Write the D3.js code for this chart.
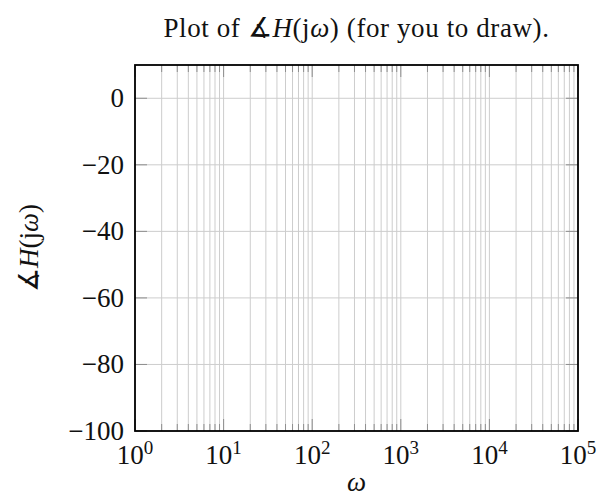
<!DOCTYPE html>
<html>
<head>
<meta charset="utf-8">
<script src="https://cdn.jsdelivr.net/npm/d3@7"></script>
<style>
  html, body { margin: 0; padding: 0; background: #fff; }
  svg { display: block; }
  text { font-family: "Liberation Serif", "DejaVu Serif", serif; fill: #111; }
  .angle { font-family: "DejaVu Sans", "DejaVu Serif", sans-serif; font-weight: 200; }
</style>
</head>
<body>
<svg id="chart" width="605" height="498"></svg>
<script>
// Axis extents and tick values for the phase plot (Bode angle grid, left blank for drawing)
const xDomain = [1, 1e5];
const yDomain = [-100, 10];
const xDecades = [0, 1, 2, 3, 4, 5];
const minorMultipliers = [2, 3, 4, 5, 6, 7, 8, 9];
const yTicks = [0, -20, -40, -60, -80, -100];

const plot = { left: 135, right: 578, top: 65, bottom: 431 };

const svg = d3.select("#chart");

const x = d3.scaleLog().domain(xDomain).range([plot.left, plot.right]);
const y = d3.scaleLinear().domain(yDomain).range([plot.bottom, plot.top]);

const majorX = xDecades.map(e => Math.pow(10, e));
const minorX = [];
xDecades.slice(0, -1).forEach(e => {
  minorMultipliers.forEach(m => minorX.push(m * Math.pow(10, e)));
});

const gridColor = "#cdcdcd";
const tickColor = "#8f8f8f";
const majorLen = 12, minorLen = 7;

// grid lines
const grid = svg.append("g").attr("stroke", gridColor).attr("stroke-width", 1);
grid.selectAll("line.vx")
  .data(majorX.concat(minorX))
  .join("line")
  .attr("x1", d => x(d)).attr("x2", d => x(d))
  .attr("y1", plot.top).attr("y2", plot.bottom);
grid.selectAll("line.hy")
  .data(yTicks)
  .join("line")
  .attr("x1", plot.left).attr("x2", plot.right)
  .attr("y1", d => y(d)).attr("y2", d => y(d));

// tick marks, drawn inward on all four sides
const ticks = svg.append("g").attr("stroke", tickColor).attr("stroke-width", 1);
const xTickData = majorX.map(v => ({ v, len: majorLen })).concat(minorX.map(v => ({ v, len: minorLen })));
ticks.selectAll("line.xb")
  .data(xTickData).join("line")
  .attr("x1", d => x(d.v)).attr("x2", d => x(d.v))
  .attr("y1", plot.bottom).attr("y2", d => plot.bottom - d.len);
ticks.selectAll("line.xt")
  .data(xTickData).join("line")
  .attr("x1", d => x(d.v)).attr("x2", d => x(d.v))
  .attr("y1", plot.top).attr("y2", d => plot.top + d.len);
ticks.selectAll("line.yl")
  .data(yTicks).join("line")
  .attr("x1", plot.left).attr("x2", plot.left + majorLen)
  .attr("y1", d => y(d)).attr("y2", d => y(d));
ticks.selectAll("line.yr")
  .data(yTicks).join("line")
  .attr("x1", plot.right).attr("x2", plot.right - majorLen)
  .attr("y1", d => y(d)).attr("y2", d => y(d));

// frame
svg.append("rect")
  .attr("x", plot.left).attr("y", plot.top)
  .attr("width", plot.right - plot.left).attr("height", plot.bottom - plot.top)
  .attr("fill", "none").attr("stroke", "#000").attr("stroke-width", 1.8);

// y tick labels
const fs = 27;
svg.append("g").selectAll("text")
  .data(yTicks).join("text")
  .attr("x", plot.left - 11)
  .attr("y", d => y(d) + 9)
  .attr("text-anchor", "end")
  .attr("font-size", fs)
  .text(d => d < 0 ? "\u2212" + Math.abs(d) : String(d));

// x tick labels as powers of ten
const xl = svg.append("g").selectAll("text")
  .data(xDecades).join("text")
  .attr("x", d => x(Math.pow(10, d)))
  .attr("y", 464)
  .attr("text-anchor", "middle")
  .attr("font-size", fs);
xl.append("tspan").text("10");
xl.append("tspan").attr("dy", -10).attr("font-size", 19).text(d => String(d));

// x axis label
svg.append("text")
  .attr("x", (plot.left + plot.right) / 2)
  .attr("y", 491)
  .attr("text-anchor", "middle")
  .attr("font-size", fs)
  .attr("font-style", "italic")
  .text("\u03c9");

// y axis label: ∡H(jω)
const yl = svg.append("text")
  .attr("transform", `translate(38, ${(plot.top + plot.bottom) / 2}) rotate(-90)`)
  .attr("text-anchor", "middle")
  .attr("font-size", fs);
yl.append("tspan").attr("class", "angle").text("\u2221");
yl.append("tspan").attr("font-style", "italic").text("H");
yl.append("tspan").text("(j");
yl.append("tspan").attr("font-style", "italic").text("\u03c9");
yl.append("tspan").text(")");

// title
const tt = svg.append("text")
  .attr("x", (plot.left + plot.right) / 2)
  .attr("y", 37)
  .attr("text-anchor", "middle")
  .attr("font-size", fs)
  .attr("letter-spacing", 0.6);
tt.append("tspan").text("Plot of ");
tt.append("tspan").attr("class", "angle").text("\u2221");
tt.append("tspan").attr("font-style", "italic").text("H");
tt.append("tspan").text("(j");
tt.append("tspan").attr("font-style", "italic").text("\u03c9");
tt.append("tspan").text(") (for you to draw).");
</script>
</body>
</html>
